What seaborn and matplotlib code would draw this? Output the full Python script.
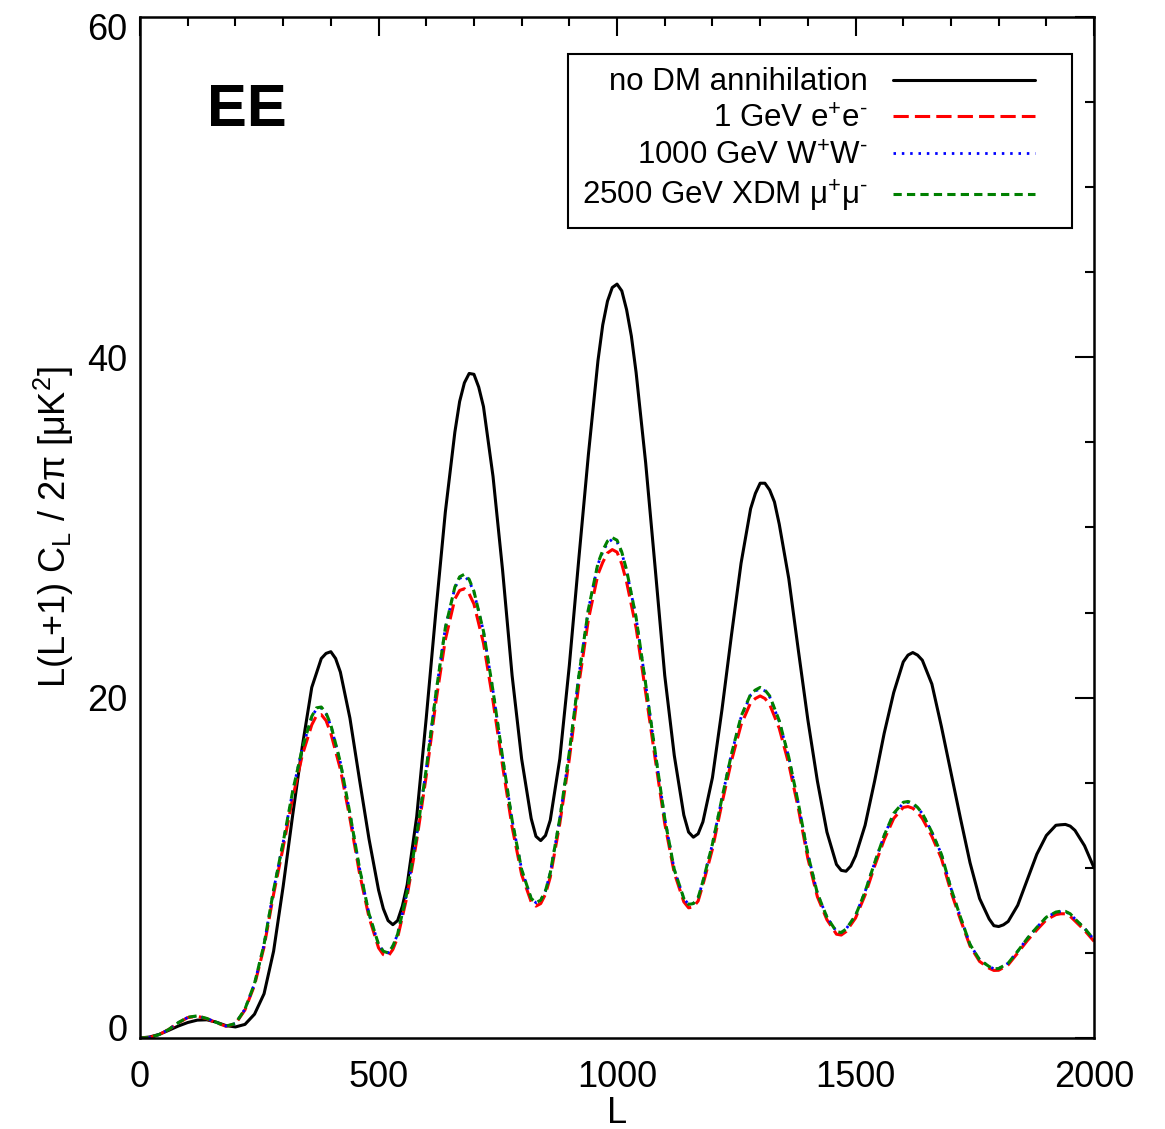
"""EE polarisation power spectrum with and without dark matter annihilation."""

import matplotlib

matplotlib.use("Agg")
import matplotlib.pyplot as plt
import matplotlib.transforms as mtransforms
import numpy as np
import pandas as pd
import seaborn as sns
from matplotlib.legend_handler import HandlerLine2D
from matplotlib.lines import Line2D
from matplotlib.ticker import MultipleLocator

# multipoles for the curve without annihilation
ell_nodm = [
    0, 20, 40, 60, 80, 100, 120, 140, 160, 180,
    200, 220, 240, 260, 280, 300, 320, 340, 360, 380,
    390, 400, 410, 420, 440, 460, 480, 500, 510, 520,
    530, 540, 550, 560, 580, 600, 620, 640, 660, 670,
    680, 690, 700, 710, 720, 740, 760, 780, 800, 820,
    830, 840, 850, 860, 880, 900, 920, 940, 960, 970,
    980, 990, 1000, 1010, 1020, 1030, 1040, 1060, 1080, 1100,
    1120, 1140, 1150, 1160, 1170, 1180, 1200, 1220, 1240, 1260,
    1280, 1290, 1300, 1310, 1320, 1330, 1340, 1360, 1380, 1400,
    1420, 1440, 1460, 1470, 1480, 1490, 1500, 1520, 1540, 1560,
    1580, 1600, 1610, 1620, 1630, 1640, 1660, 1680, 1700, 1720,
    1740, 1760, 1780, 1790, 1800, 1810, 1820, 1840, 1860, 1880,
    1900, 1920, 1930, 1940, 1950, 1960, 1980, 2000,
]
no_dm = [
    0.0, 0.06, 0.21, 0.45, 0.70, 0.91, 1.05, 1.07, 0.93, 0.73,
    0.65, 0.80, 1.40, 2.60, 5.10, 8.90, 13.1, 17.1, 20.6, 22.3,
    22.6, 22.7, 22.3, 21.5, 18.8, 15.2, 11.7, 8.7, 7.6, 6.9,
    6.66, 6.9, 7.75, 9.0, 13.0, 18.8, 25.0, 30.9, 35.6, 37.4,
    38.5, 39.05, 39.0, 38.25, 37.1, 33.0, 27.5, 21.3, 16.4, 12.9,
    11.85, 11.6, 11.9, 12.8, 16.4, 21.9, 28.2, 34.3, 39.8, 41.9,
    43.3, 44.1, 44.3, 43.9, 42.8, 41.25, 39.1, 33.8, 27.6, 21.3,
    16.6, 13.1, 12.1, 11.8, 12.0, 12.7, 15.3, 19.3, 23.7, 27.9,
    31.1, 32.0, 32.6, 32.6, 32.2, 31.5, 30.2, 27.0, 22.8, 18.7,
    15.1, 12.1, 10.2, 9.85, 9.8, 10.1, 10.7, 12.5, 15.1, 17.9,
    20.3, 22.1, 22.5, 22.65, 22.5, 22.2, 20.8, 18.3, 15.6, 12.9,
    10.3, 8.2, 7.0, 6.6, 6.55, 6.65, 6.85, 7.8, 9.3, 10.8,
    11.9, 12.5, 12.53, 12.55, 12.45, 12.2, 11.3, 10.0,
]

# multipoles shared by the three annihilation models
ell_dm = [
    0, 20, 40, 60, 80, 100, 120, 140, 160, 180,
    200, 220, 240, 260, 280, 300, 320, 340, 360, 370,
    380, 390, 400, 420, 440, 460, 480, 500, 510, 520,
    530, 540, 560, 580, 600, 620, 640, 660, 670, 680,
    690, 700, 720, 740, 760, 780, 800, 820, 830, 840,
    850, 860, 880, 900, 920, 940, 960, 970, 980, 990,
    1000, 1010, 1020, 1040, 1060, 1080, 1100, 1120, 1140, 1150,
    1160, 1170, 1180, 1200, 1220, 1240, 1260, 1280, 1290, 1300,
    1310, 1320, 1340, 1360, 1380, 1400, 1420, 1440, 1460, 1470,
    1480, 1500, 1520, 1540, 1560, 1580, 1600, 1610, 1620, 1630,
    1640, 1660, 1680, 1700, 1720, 1740, 1760, 1780, 1790, 1800,
    1820, 1840, 1860, 1880, 1900, 1920, 1930, 1940, 1950, 1960,
    1980, 2000,
]
ee_1gev = [
    0.0, 0.03, 0.2, 0.5, 0.88, 1.2, 1.28, 1.13, 0.9, 0.69,
    0.83, 1.65, 3.1, 5.35, 8.45, 11.2, 14.1, 16.6, 18.4, 18.95,
    19.0, 18.65, 17.9, 15.8, 12.9, 9.7, 7.1, 5.3, 4.9, 4.8,
    5.2, 5.9, 8.35, 11.6, 15.4, 19.7, 23.4, 25.8, 26.3, 26.4,
    26.1, 25.5, 23.2, 19.8, 16.0, 12.4, 9.6, 8.0, 7.75, 7.9,
    8.45, 9.45, 12.6, 16.4, 20.8, 24.6, 27.25, 27.95, 28.5, 28.7,
    28.55, 27.85, 26.8, 24.1, 20.3, 16.4, 12.6, 9.7, 8.0, 7.65,
    7.7, 8.05, 9.0, 11.1, 13.8, 16.3, 18.4, 19.7, 19.95, 20.1,
    19.95, 19.6, 18.2, 16.1, 13.5, 10.55, 8.3, 6.95, 6.1, 6.05,
    6.25, 7.05, 8.4, 10.1, 11.65, 12.9, 13.55, 13.6, 13.5, 13.25,
    12.9, 11.85, 10.55, 8.6, 6.95, 5.4, 4.5, 4.1, 3.97, 3.98,
    4.3, 5.0, 5.72, 6.35, 6.95, 7.25, 7.3, 7.3, 7.15, 6.88,
    6.33, 5.68,
]
ww_1000gev = [
    0.0, 0.03, 0.2, 0.5, 0.9, 1.21, 1.29, 1.15, 0.92, 0.70,
    0.85, 1.7, 3.2, 5.5, 8.7, 11.5, 14.5, 17.0, 18.85, 19.35,
    19.4, 19.05, 18.35, 16.2, 13.2, 10.0, 7.3, 5.5, 5.1, 5.0,
    5.4, 6.1, 8.6, 11.9, 15.8, 20.2, 24.1, 26.45, 27.0, 27.15,
    26.85, 26.2, 23.9, 20.4, 16.5, 12.8, 9.9, 8.2, 7.95, 8.1,
    8.65, 9.7, 12.9, 16.8, 21.3, 25.2, 27.85, 28.55, 29.1, 29.3,
    29.15, 28.5, 27.45, 24.7, 20.8, 16.8, 12.9, 9.9, 8.2, 7.85,
    7.9, 8.25, 9.2, 11.4, 14.1, 16.7, 18.85, 20.15, 20.4, 20.5,
    20.4, 20.05, 18.6, 16.5, 13.8, 10.8, 8.5, 7.1, 6.25, 6.2,
    6.4, 7.2, 8.6, 10.3, 11.9, 13.15, 13.8, 13.85, 13.75, 13.5,
    13.2, 12.1, 10.8, 8.8, 7.1, 5.5, 4.6, 4.2, 4.07, 4.08,
    4.4, 5.1, 5.85, 6.5, 7.1, 7.38, 7.42, 7.42, 7.28, 7.0,
    6.45, 5.78,
]
xdm_2500gev = [
    0.0, 0.03, 0.2, 0.5, 0.9, 1.22, 1.30, 1.15, 0.92, 0.70,
    0.85, 1.7, 3.2, 5.5, 8.7, 11.5, 14.5, 17.0, 18.9, 19.4,
    19.45, 19.1, 18.4, 16.2, 13.2, 10.0, 7.3, 5.5, 5.1, 5.0,
    5.4, 6.1, 8.6, 11.9, 15.8, 20.2, 24.1, 26.5, 27.1, 27.25,
    26.95, 26.25, 23.9, 20.4, 16.5, 12.8, 9.9, 8.2, 7.95, 8.1,
    8.65, 9.7, 12.9, 16.8, 21.3, 25.2, 27.9, 28.65, 29.2, 29.4,
    29.25, 28.55, 27.5, 24.7, 20.8, 16.8, 12.9, 9.9, 8.2, 7.85,
    7.9, 8.25, 9.2, 11.4, 14.1, 16.7, 18.9, 20.2, 20.45, 20.6,
    20.45, 20.1, 18.65, 16.5, 13.8, 10.8, 8.5, 7.1, 6.25, 6.2,
    6.4, 7.2, 8.6, 10.3, 11.9, 13.2, 13.85, 13.9, 13.8, 13.55,
    13.2, 12.1, 10.8, 8.8, 7.1, 5.5, 4.6, 4.2, 4.07, 4.08,
    4.4, 5.1, 5.85, 6.5, 7.1, 7.4, 7.45, 7.44, 7.3, 7.0,
    6.45, 5.78,
]

labels = [
    "no DM annihilation",
    r"1 GeV e$^{+}$e$^{\text{-}}$",
    r"1000 GeV W$^{+}$W$^{\text{-}}$",
    r"2500 GeV XDM $\mathrm{\mu}^{+}\mathrm{\mu}^{\text{-}}$",
]


class ShortLineHandler(HandlerLine2D):
    """Legend line that leaves some empty room at the right of the handle box."""

    def get_xdata(self, legend, xdescent, ydescent, width, height, fontsize):
        x0 = -xdescent
        xdata = np.array([x0, x0 + 0.861 * width])
        return xdata, xdata


def main() -> None:
    sns.set_theme(style="white")
    plt.rcParams.update({
        "font.family": ["Liberation Sans", "DejaVu Sans"],
        "mathtext.fontset": "custom",
        "mathtext.rm": "Liberation Sans",
        "mathtext.it": "Liberation Sans:italic",
        "axes.edgecolor": "black",
        "axes.linewidth": 1.8,
        "text.color": "black",
        "axes.labelcolor": "black",
        "xtick.color": "black",
        "ytick.color": "black",
    })

    nodm_df = pd.DataFrame({"L": ell_nodm, "cl": no_dm})
    dm_df = pd.DataFrame({
        "L": ell_dm,
        "ee": ee_1gev,
        "ww": ww_1000gev,
        "xdm": xdm_2500gev,
    })

    fig = plt.figure(figsize=(11.65, 11.29), dpi=100)
    ax = fig.add_axes([0.1202, 0.0806, 0.8189, 0.9044])

    sns.lineplot(data=nodm_df, x="L", y="cl", ax=ax, color="black",
                 linewidth=2.2, label=labels[0], sort=False)
    dm_styles = [
        ("ee", "#ff0000", (0, (5, 2)), 2.2),
        ("ww", "#0000ff", (0, (0.9, 2.1)), 2.0),
        ("xdm", "#008000", (0, (2.7, 1.7)), 2.2),
    ]
    for (col, color, ls, lw), label in zip(dm_styles, labels[1:]):
        sns.lineplot(data=dm_df, x="L", y=col, ax=ax, color=color, linestyle=ls,
                     linewidth=lw, label=label, sort=False)

    ax.set_xlim(0, 2000)
    ax.set_ylim(0, 60)
    ax.set_xticks([0, 500, 1000, 1500, 2000])
    ax.set_yticks([0, 20, 40, 60])
    ax.xaxis.set_minor_locator(MultipleLocator(100))
    ax.yaxis.set_minor_locator(MultipleLocator(5))
    ax.tick_params(which="both", direction="in", top=True, right=True,
                   color="black", width=1.5)
    ax.tick_params(which="major", length=13.7, labelsize=26)
    ax.tick_params(which="minor", length=6.8)
    ax.tick_params(axis="x", which="major", pad=15.5)
    ax.tick_params(axis="y", which="major", pad=9)

    ax.set_xlabel("L", fontsize=26, labelpad=1)
    ax.set_ylabel(r"L(L+1) C$_\mathrm{L}$ / 2$\mathrm{\pi}$ [$\mathrm{\mu}$K$^\mathrm{2}$]",
                  fontsize=26, labelpad=8)

    ax.text(0.07, 0.893, "EE", transform=ax.transAxes, fontsize=43,
            fontweight="bold", va="baseline", ha="left")

    leg = ax.legend(loc="upper right", bbox_to_anchor=(0.977, 0.964),
                    borderaxespad=0, fontsize=22.5, markerfirst=False,
                    handlelength=5.3, handletextpad=0.8, labelspacing=0.22,
                    borderpad=0.44, fancybox=False, framealpha=1,
                    handler_map={Line2D: ShortLineHandler()})
    leg.get_frame().set_edgecolor("black")
    leg.get_frame().set_linewidth(1.5)

    # nudge the end labels of the y axis inwards, as in the original figure
    fig.canvas.draw()
    for tick in ax.yaxis.get_major_ticks():
        loc = tick.get_loc()
        if np.isclose(loc, 0):
            shift = mtransforms.ScaledTranslation(0, 0.11, fig.dpi_scale_trans)
        elif np.isclose(loc, 60):
            shift = mtransforms.ScaledTranslation(0, -0.10, fig.dpi_scale_trans)
        else:
            continue
        tick.label1.set_transform(tick.label1.get_transform() + shift)

    fig.savefig("out.png", dpi=100)
    plt.close(fig)


if __name__ == "__main__":
    main()
